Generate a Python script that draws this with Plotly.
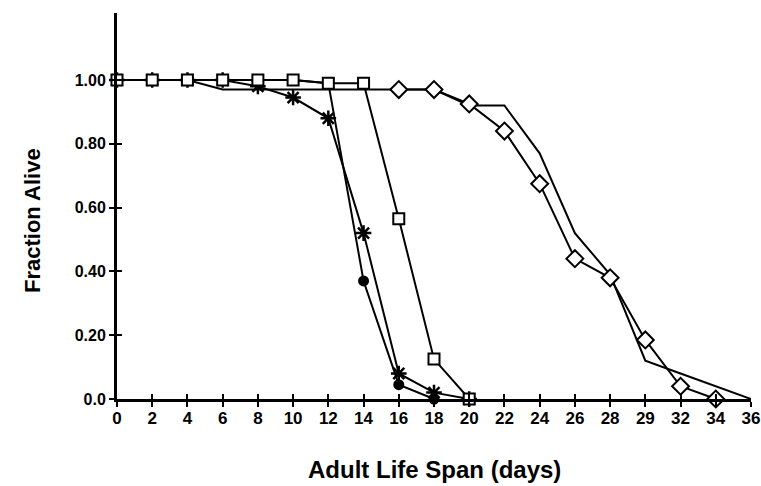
import plotly.graph_objects as go

# Category tick labels on the x axis (as printed in the original figure)
days = ["0", "2", "4", "6", "8", "10", "12", "14", "16", "18", "20",
        "22", "24", "26", "28", "29", "32", "34", "36"]

# Plain line (no markers)
plain_x = days
plain_y = [1.00, 1.00, 1.00, 0.97, 0.97, 0.97, 0.97, 0.97, 0.97, 0.97, 0.92,
           0.92, 0.77, 0.52, 0.39, 0.12, 0.08, 0.04, 0.00]

# Filled circles
circle_x = ["0", "2", "4", "6", "8", "10", "12", "14", "16", "18"]
circle_y = [1.00, 1.00, 1.00, 1.00, 1.00, 1.00, 0.99, 0.37, 0.045, 0.00]

# Asterisks
star_x = ["0", "2", "4", "6", "8", "10", "12", "14", "16", "18", "20"]
star_y = [1.00, 1.00, 1.00, 1.00, 0.98, 0.945, 0.88, 0.52, 0.08, 0.02, 0.00]

# Open diamonds
diamond_x = ["16", "18", "20", "22", "24", "26", "28", "29", "32", "34"]
diamond_y = [0.97, 0.97, 0.925, 0.84, 0.675, 0.44, 0.38, 0.185, 0.04, 0.00]

# Open squares
square_x = ["0", "2", "4", "6", "8", "10", "12", "14", "16", "18", "20"]
square_y = [1.00, 1.00, 1.00, 1.00, 1.00, 1.00, 0.99, 0.99, 0.565, 0.125, 0.00]

y_ticks = [0.0, 0.2, 0.4, 0.6, 0.8, 1.0]
y_ticktext = ["0.0", "0.20", "0.40", "0.60", "0.80", "1.00"]

FONT = "Liberation Sans, Arial, sans-serif"
LW = 2

W, H = 761, 486
PL, PR, PT, PB = 117, 751, 13, 399          # plot area in page pixels
pw, ph = PR - PL, PB - PT

fig = go.Figure()
fig.add_trace(go.Scatter(x=plain_x, y=plain_y, mode="lines",
                         line=dict(color="black", width=LW), cliponaxis=False))
fig.add_trace(go.Scatter(x=circle_x, y=circle_y, mode="lines+markers",
                         line=dict(color="black", width=LW),
                         marker=dict(symbol="circle", size=11, color="black"),
                         cliponaxis=False))
fig.add_trace(go.Scatter(x=star_x, y=star_y, mode="lines+markers",
                         line=dict(color="black", width=LW),
                         marker=dict(symbol="asterisk-open", size=13, color="black",
                                     line=dict(color="black", width=2.5)),
                         cliponaxis=False))
fig.add_trace(go.Scatter(x=diamond_x, y=diamond_y, mode="lines+markers",
                         line=dict(color="black", width=LW),
                         marker=dict(symbol="diamond", size=13, color="white",
                                     line=dict(color="black", width=2)),
                         cliponaxis=False))
fig.add_trace(go.Scatter(x=square_x, y=square_y, mode="lines+markers",
                         line=dict(color="black", width=LW),
                         marker=dict(symbol="square", size=11, color="white",
                                     line=dict(color="black", width=2)),
                         cliponaxis=False))
# invisible trace on overlay axes (for inner half of crossing ticks)
fig.add_trace(go.Scatter(x=[days[0]], y=[0], xaxis="x2", yaxis="y2",
                         mode="markers", marker=dict(opacity=0),
                         hoverinfo="skip"))

tickfont = dict(family=FONT, size=17, color="black")
fig.update_layout(
    width=W, height=H,
    margin=dict(l=PL, r=W - PR, t=PT, b=H - PB, autoexpand=False),
    paper_bgcolor="white", plot_bgcolor="white",
    showlegend=False,
    font=dict(family=FONT, color="black"),
    xaxis=dict(type="category", categoryorder="array", categoryarray=days,
               range=[0, 18], showgrid=False, zeroline=False,
               tickvals=days, ticktext=["<b>%s</b>" % d for d in days],
               showline=True, linecolor="black", linewidth=3,
               ticks="outside", ticklen=5, tickwidth=2, tickcolor="black",
               tickfont=tickfont, ticklabelstandoff=-3,
               ticklabeloverflow="allow"),
    yaxis=dict(range=[0, 1.21], tickvals=y_ticks,
               ticktext=["<b>%s</b>" % t for t in y_ticktext],
               showgrid=False, zeroline=False,
               showline=True, linecolor="black", linewidth=3,
               ticks="outside", ticklen=5, tickwidth=2, tickcolor="black",
               tickfont=dict(family=FONT, size=16, color="black"),
               ticklabelstandoff=0),
    xaxis2=dict(type="category", categoryorder="array", categoryarray=days,
                range=[0, 18], overlaying="x", side="bottom", anchor="y2",
                showgrid=False, zeroline=False, showline=False,
                ticks="inside", ticklen=5, tickwidth=2, tickcolor="black",
                showticklabels=False),
    yaxis2=dict(range=[0, 1.21], tickvals=y_ticks, overlaying="y",
                side="left", anchor="x2",
                showgrid=False, zeroline=False, showline=False,
                ticks="inside", ticklen=5, tickwidth=2, tickcolor="black",
                showticklabels=False),
    annotations=[
        dict(text="<b>Adult Life Span (days)</b>", xref="paper", yref="paper",
             x=(434 - PL) / pw, y=(PB - 469) / ph, showarrow=False,
             xanchor="center", yanchor="middle",
             font=dict(family=FONT, size=24, color="black")),
        dict(text="<b>Fraction Alive</b>", xref="paper", yref="paper",
             x=(32 - PL) / pw, y=(PB - 221) / ph, showarrow=False,
             textangle=-90, xanchor="center", yanchor="middle",
             font=dict(family=FONT, size=22, color="black")),
    ],
)

fig.write_html(
    "out.html",
    config={"displayModeBar": False},
    post_script="document.body.style.margin='0';document.body.style.overflow='hidden';",
)
